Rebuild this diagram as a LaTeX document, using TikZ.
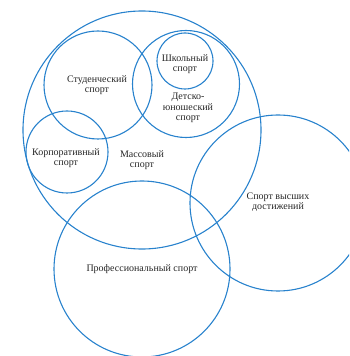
\documentclass[tikz,border=0pt]{standalone}
\usepackage{fontspec}
\setmainfont{Liberation Serif}
\definecolor{cblue}{RGB}{40,130,205}
\begin{document}
\begin{tikzpicture}[x=1pt,y=1pt,
  ring/.style={circle,draw=cblue,line width=1.1pt,inner sep=0pt},
  lbl/.style={font=\fontsize{10}{10.5}\selectfont,align=center,text=black!85}]
\useasboundingbox (0,0) rectangle (349,356);
\begin{scope}
\clip (0,0) rectangle (349,356);
\node[ring,minimum size=238pt] (mass) at (142,226) {};
\node[ring,minimum size=108pt] (stud) at (98,271) {};
\node[ring,minimum size=107pt] (det) at (186,272) {};
\node[ring,minimum size=56pt] (shk) at (185,295) {};
\node[ring,minimum size=82pt] (korp) at (67,204) {};
\node[ring,minimum size=176pt] (prof) at (142,87) {};
\node[ring,minimum size=176pt] (high) at (278,153) {};
\end{scope}
\node[lbl] (tstud) at (97,271) {Студенческий\\спорт};
\node[lbl] (tshk) at (185,292) {Школьный\\спорт};
\node[lbl] (tdet) at (188,248) {Детско-\\юношеский\\спорт};
\node[lbl] (tkorp) at (66,198) {Корпоративный\\спорт};
\node[lbl] (tmass) at (142,196) {Массовый\\спорт};
\node[lbl] (thigh) at (278,154) {Спорт высших\\достижений};
\node[lbl] (tprof) at (142,87) {Профессиональный спорт};
\end{tikzpicture}
\end{document}
